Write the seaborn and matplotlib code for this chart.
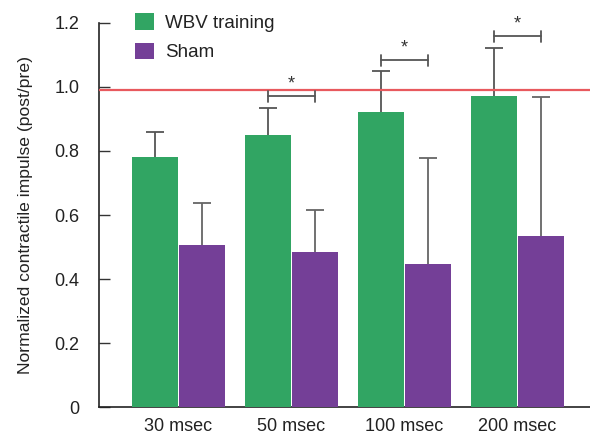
import matplotlib
matplotlib.use("Agg")
import matplotlib.pyplot as plt
import seaborn as sns
import pandas as pd
import numpy as np

categories = ["30 msec", "50 msec", "100 msec", "200 msec"]
groups = ["WBV training", "Sham"]
wbv_mean = [0.781, 0.849, 0.921, 0.970]
wbv_err = [0.079, 0.085, 0.127, 0.150]
sham_mean = [0.506, 0.484, 0.447, 0.534]
sham_err = [0.132, 0.132, 0.332, 0.434]
reference_line = 0.99
sig_levels = [None, 0.970, 1.083, 1.158]

sns.set_theme(style="white")
plt.rcParams['font.family'] = ['Liberation Sans', 'DejaVu Sans']

df = pd.DataFrame({
    "condition": categories * 2,
    "group": [groups[0]] * 4 + [groups[1]] * 4,
    "value": wbv_mean + sham_mean,
})
palette = {"WBV training": "#31A563", "Sham": "#743F97"}

fig = plt.figure(figsize=(5.9, 4.37), dpi=100)
ax = fig.add_axes([0.1673, 0.068, 0.8327, 0.880])
sns.barplot(data=df, x="condition", y="value", hue="group", palette=palette,
            width=0.84, gap=0.04, saturation=1, ax=ax, errorbar=None, zorder=3,
            linewidth=0)

bars = ax.patches[:8]
gx = [b.get_x() + b.get_width() / 2 for b in bars[:4]]
px = [b.get_x() + b.get_width() / 2 for b in bars[4:8]]

def upper_err(xs, means, errs, color):
    cont = ax.errorbar(xs, means, yerr=[np.zeros(len(means)), errs], fmt="none",
                       ecolor=color, elinewidth=1.3, capsize=6.5, capthick=1.3, zorder=2)
    caps = cont[1]
    if len(caps) >= 2:
        caps[0].set_visible(False)

upper_err(gx, wbv_mean, wbv_err, "#555555")
upper_err(px, sham_mean, sham_err, "#666666")

ax.axhline(reference_line, color="#E8595E", lw=1.6, zorder=4)

for i, lvl in enumerate(sig_levels):
    if lvl is None:
        continue
    x0, x1 = gx[i], px[i]
    ax.plot([x0, x1], [lvl, lvl], color="#555555", lw=1.3, clip_on=False, zorder=5)
    ax.plot([x0, x0], [lvl - 0.017, lvl + 0.017], color="#555555", lw=1.3, clip_on=False, zorder=5)
    ax.plot([x1, x1], [lvl - 0.017, lvl + 0.017], color="#555555", lw=1.3, clip_on=False, zorder=5)
    ax.text((x0 + x1) / 2, lvl + 0.013, "*", ha="center", va="bottom", fontsize=13,
            color="#333333", clip_on=False)

ax.set_ylim(0, 1.2)
ax.set_xlim(-0.706, 3.642)
ax.set_yticks([0, 0.2, 0.4, 0.6, 0.8, 1.0, 1.2])
ax.set_yticklabels(["0", "0.2", "0.4", "0.6", "0.8", "1.0", "1.2"])
ax.tick_params(axis="y", direction="in", length=8, width=1, color="#333333",
               labelsize=13, labelcolor="#222222", pad=14, left=True)
ax.tick_params(axis="x", length=0, labelsize=13, labelcolor="#222222", pad=8)
ax.set_xlabel("")
ax.set_ylabel("Normalized contractile impulse (post/pre)", fontsize=12.6,
              color="#222222", labelpad=15)
for s in ["top", "right"]:
    ax.spines[s].set_visible(False)
for s in ["left", "bottom"]:
    ax.spines[s].set_color("#222222")
    ax.spines[s].set_linewidth(1.2)

leg = ax.legend(loc="upper left", bbox_to_anchor=(0.04, 1.068), frameon=False,
                fontsize=13.5, handlelength=1.0, handleheight=1.0, handletextpad=0.6,
                labelspacing=0.55)
for t in leg.get_texts():
    t.set_color("#222222")

fig.savefig("out.png", dpi=100)
